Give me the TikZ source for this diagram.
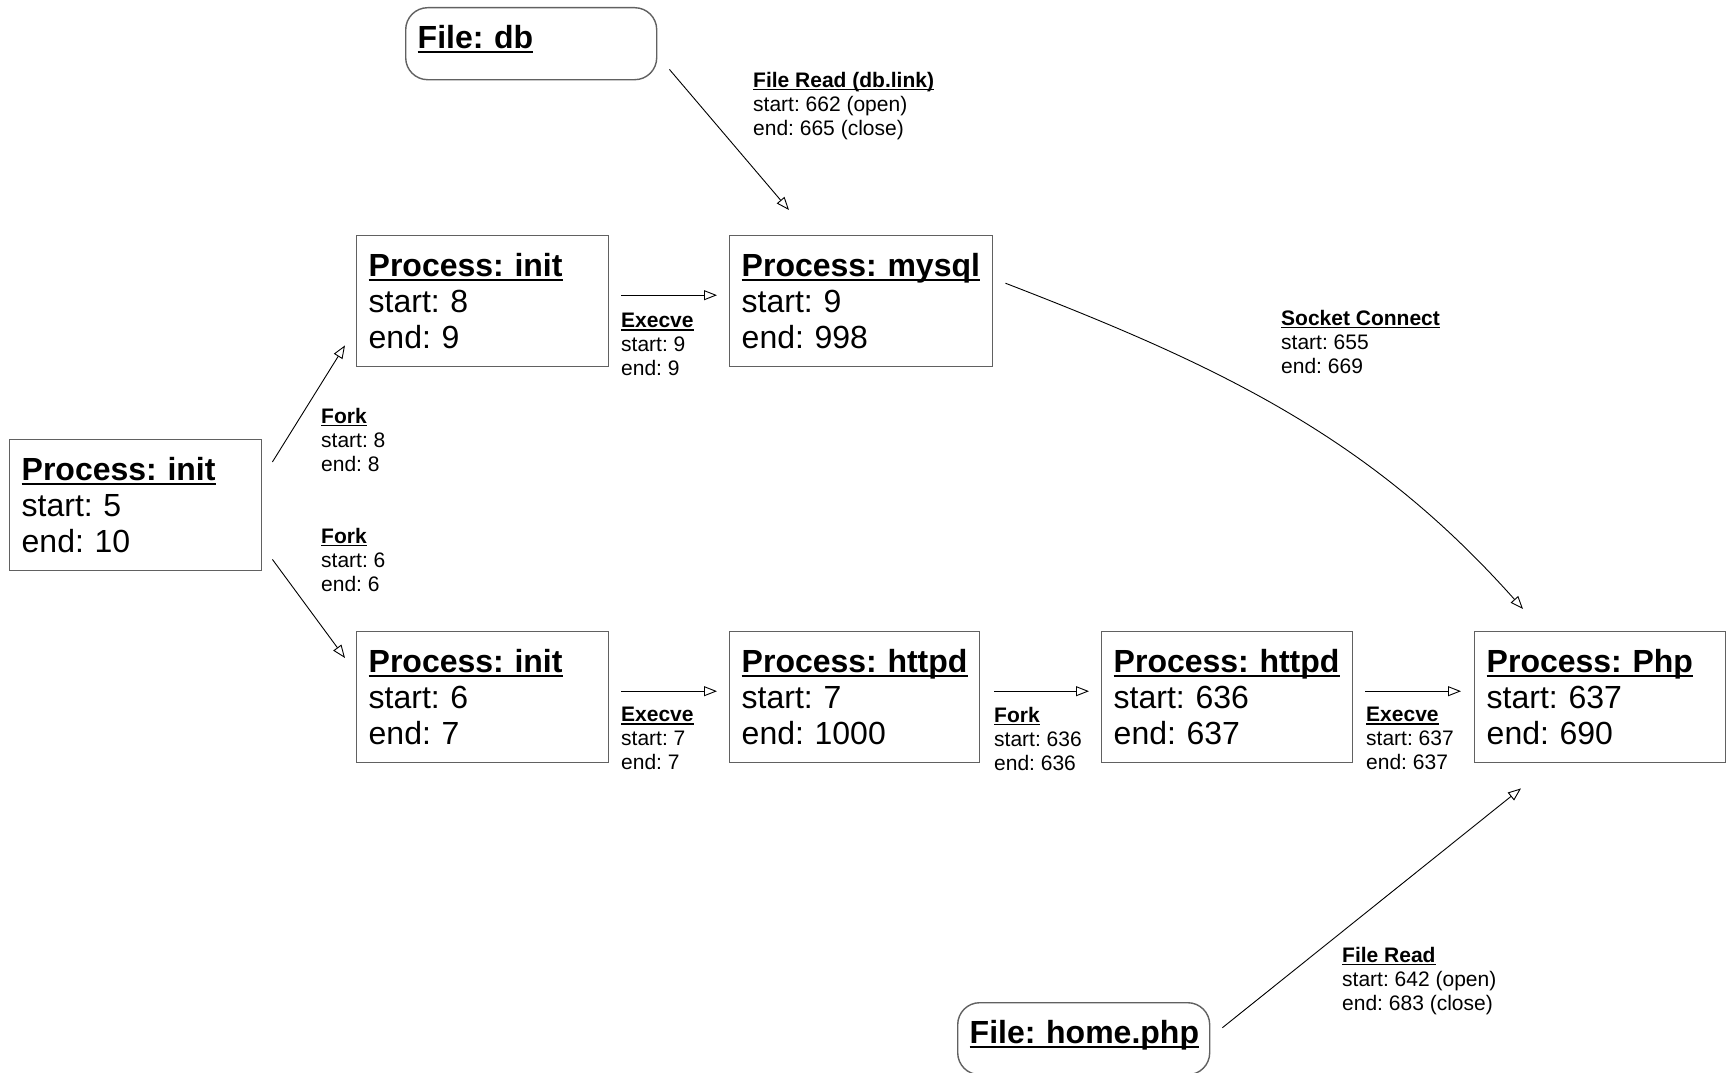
\documentclass[tikz,border=0pt]{standalone}
\usepackage{fontspec}
\setmainfont{Liberation Sans}
\usetikzlibrary{arrows.meta,calc}
\frenchspacing
\newcommand\ulx[1]{\leavevmode\setbox0\hbox{#1}\rlap{\rule[-0.14em]{\wd0}{0.07em}}\box0}
\begin{document}
\frenchspacing
\begin{tikzpicture}[x=1pt,y=-1pt,
 pbox/.style={draw=black!62, line width=1.4pt, anchor=north west, inner xsep=12pt, inner ysep=0pt, minimum height=131pt, align=left, font=\fontsize{32}{36}\selectfont},
 fbox/.style={pbox, rounded corners=22pt, minimum height=72pt, text depth=14pt},
 lbl/.style={anchor=north west, inner sep=0pt, align=left, font=\fontsize{21}{24}\selectfont},
 conn/.style={line width=0.9pt, -{Triangle[open,length=13pt,width=10pt]}},
]
\useasboundingbox (0,0) rectangle (1729,1073);
\fill[white] (0,0) rectangle (1729,1073);

\node[pbox, text width=228pt] (root) at (9,439) {\ulx{\textbf{Process: init}}\\start: 5\\end: 10};
\node[pbox, text width=228pt] (initA) at (356,235) {\ulx{\textbf{Process: init}}\\start: 8\\end: 9};
\node[pbox, text width=239pt] (mysql) at (729,235) {\ulx{\textbf{Process: mysql}}\\start: 9\\end: 998};
\node[pbox, text width=228pt] (initB) at (356,631) {\ulx{\textbf{Process: init}}\\start: 6\\end: 7};
\node[pbox, text width=226pt] (httpd1) at (729,631) {\ulx{\textbf{Process: httpd}}\\start: 7\\end: 1000};
\node[pbox, text width=227pt] (httpd2) at (1101,631) {\ulx{\textbf{Process: httpd}}\\start: 636\\end: 637};
\node[pbox, text width=227pt] (php) at (1474,631) {\ulx{\textbf{Process: Php}}\\start: 637\\end: 690};
\node[fbox, text width=227pt] (fdb) at (405,7) {\ulx{\textbf{File: db}}};
\node[fbox, text width=228pt] (fhome) at (957,1002) {\ulx{\textbf{File: home.php}}};

\node[lbl] (l1) at (321,408) {\ulx{\textbf{Fork}}\\start: 8\\end: 8};
\node[lbl] (l2) at (321,528) {\ulx{\textbf{Fork}}\\start: 6\\end: 6};
\node[lbl] (l3) at (621,313) {\ulx{\textbf{Execve}}\\start: 9\\end: 9};
\node[lbl] (l4) at (753,72) {\ulx{\textbf{File Read (db.link)}}\\start: 662 (open)\\end: 665 (close)};
\node[lbl] (l5) at (1281,310) {\ulx{\textbf{Socket Connect}}\\start: 655\\end: 669};
\node[lbl] (l6) at (621,707) {\ulx{\textbf{Execve}}\\start: 7\\end: 7};
\node[lbl] (l7) at (994,707) {\ulx{\textbf{Fork}}\\start: 636\\end: 636};
\node[lbl] (l8) at (1366,707) {\ulx{\textbf{Execve}}\\start: 637\\end: 637};
\node[lbl] (l9) at (1342,947) {\ulx{\textbf{File Read}}\\start: 642 (open)\\end: 683 (close)};

\draw[conn] ($(root.north east)+(10,23)$) -- ($(initA.south west)+(-11,-22)$);
\draw[conn] ($(root.south east)+(10,-12)$) -- ($(initB.north west)+(-11,27)$);
\draw[conn] ($(initA.east)+(12,-6)$) -- ($(mysql.west)+(-12,-6)$);
\draw[conn] ($(initB.east)+(12,-6)$) -- ($(httpd1.west)+(-12,-6)$);
\draw[conn] ($(httpd1.east)+(14,-6)$) -- ($(httpd2.west)+(-12,-6)$);
\draw[conn] ($(httpd2.east)+(12,-6)$) -- ($(php.west)+(-13,-6)$);
\draw[conn] ($(fdb.south east)+(12,-11)$) -- ($(mysql.north west)+(60,-25)$);
\draw[conn] ($(mysql.east)+(12,-18)$) .. controls +(215,83) and +(-153,-172) .. ($(php.north west)+(49,-22)$);
\draw[conn] ($(fhome.east)+(12,-11)$) -- ($(php.south west)+(47,25)$);
\end{tikzpicture}
\end{document}
